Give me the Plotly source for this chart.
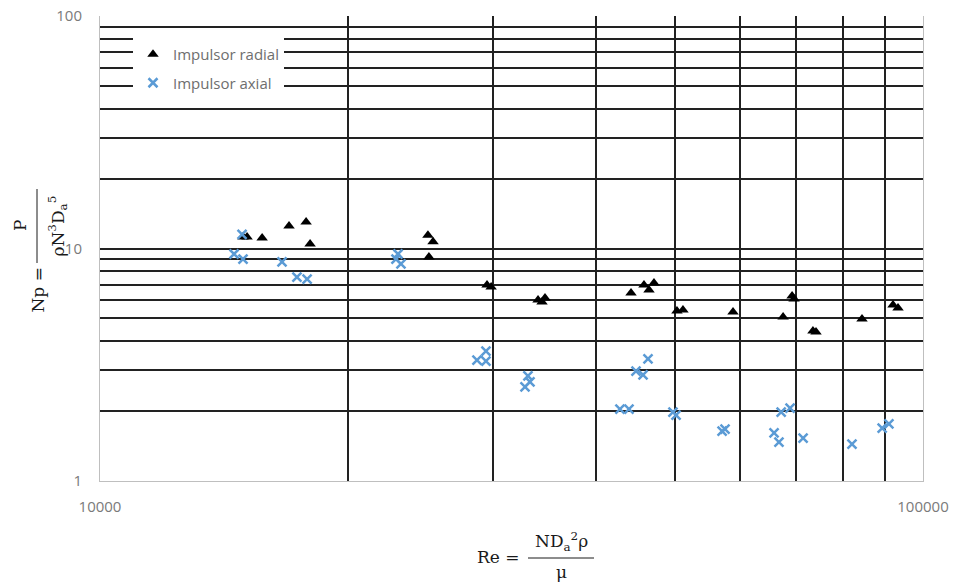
import plotly.graph_objects as go

# ---- data ----
radial_re = [14920, 15090, 15740, 16970, 17800, 18000, 25030, 25390, 25100,
             29530, 29870, 34060, 34440, 34730, 44180, 45810, 46460, 47110,
             50240, 51090, 58770, 67610, 69330, 69720, 73500, 74130, 84310,
             91950, 93250]
radial_np = [11.2, 11.2, 11.1, 12.5, 13.0, 10.45, 11.4, 10.7, 9.2,
             6.97, 6.83, 6.0, 5.89, 6.12, 6.44, 6.97, 6.63, 7.11,
             5.38, 5.44, 5.33, 5.08, 6.25, 6.07, 4.42, 4.37, 4.98,
             5.71, 5.55]

axial_re = [14880, 14550, 14920, 16640, 17350, 17850, 23020, 22890, 23210,
            29440, 28710, 29440, 33110, 33300, 32840, 46330, 44800, 45690,
            42830, 43930, 49680, 50110, 57000, 57470, 67240, 68940, 65920,
            66830, 71500, 81980, 89200, 90900]
axial_np = [11.5, 9.47, 9.01, 8.75, 7.54, 7.39, 9.47, 9.01, 8.58,
            3.62, 3.31, 3.28, 2.83, 2.67, 2.54, 3.35, 2.97, 2.86,
            2.04, 2.04, 1.98, 1.92, 1.64, 1.67, 1.98, 2.06, 1.61,
            1.47, 1.53, 1.44, 1.69, 1.76]

x_major = [10000, 100000]
x_major_text = ["10000", "100000"]
x_minor = [20000, 30000, 40000, 50000, 60000, 70000, 80000, 90000]
y_major = [1, 10, 100]
y_major_text = ["1", "10", "100"]
y_minor = [2, 3, 4, 5, 6, 7, 8, 9, 20, 30, 40, 50, 60, 70, 80, 90]

series_names = ["Impulsor radial", "Impulsor axial"]

GRID = "#222222"
AXIS = "#bfbfbf"
TICKC = "#7a7a7a"
BLUE = "#5b9bd5"

fig = go.Figure()
fig.add_trace(go.Scatter(
    x=radial_re, y=radial_np, mode="markers", name=series_names[0],
    legendgroup="a",
    marker=dict(symbol="triangle-up", size=10, color="black")))
fig.add_trace(go.Scatter(
    x=axial_re, y=axial_np, mode="markers", name=series_names[1],
    legendgroup="b",
    marker=dict(symbol="x-thin", size=9, color=BLUE,
                line=dict(color=BLUE, width=2.5))))

W, H = 956, 582
L, R, T, B = 100, 33, 16, 101
pw, ph = W - L - R, H - T - B


def px(x):
    return (x - L) / pw


def py(y):
    return (H - B - y) / ph


fig.update_layout(
    width=W, height=H,
    margin=dict(l=L, r=R, t=T, b=B, autoexpand=False),
    paper_bgcolor="white", plot_bgcolor="white",
    showlegend=True,
    legend=dict(x=px(133), y=py(38), xanchor="left", yanchor="top",
                bgcolor="white", font=dict(family="Open Sans", size=15, color="#6e6e6e"),
                tracegroupgap=6, traceorder="grouped"),
    font=dict(family="Open Sans", size=15, color=TICKC),
)

fig.update_xaxes(
    type="log", range=[4, 5], automargin=False,
    tickmode="array", tickvals=x_major, ticktext=x_major_text,
    showgrid=False, zeroline=False,
    showline=True, linecolor=AXIS, linewidth=1,
    ticks="", ticklabelstandoff=12,
    tickfont=dict(family="Open Sans", size=15, color=TICKC),
    minor=dict(tickmode="array", tickvals=x_minor, showgrid=True,
               gridcolor=GRID, gridwidth=1.6, ticks=""),
)
fig.update_yaxes(
    type="log", range=[0, 2], automargin=False,
    tickmode="array", tickvals=y_major, ticktext=y_major_text,
    showgrid=True, gridcolor=GRID, gridwidth=1.6, zeroline=False,
    showline=True, linecolor=AXIS, linewidth=1, mirror=True,
    ticks="", ticklabelstandoff=14,
    tickfont=dict(family="Open Sans", size=15, color=TICKC),
    minor=dict(tickmode="array", tickvals=y_minor, showgrid=True,
               gridcolor=GRID, gridwidth=1.6, ticks=""),
)

SERIF = "DejaVu Serif"
TF = dict(family=SERIF, size=17, color="#1a1a1a")

# x-axis title: Re = N Da^2 rho / mu
fig.add_annotation(xref="paper", yref="paper", x=px(522), y=py(557),
                   xanchor="right", yanchor="middle", showarrow=False,
                   text="Re =", font=TF)
fig.add_annotation(xref="paper", yref="paper", x=px(561), y=py(556),
                   xanchor="center", yanchor="bottom", showarrow=False,
                   text="ND<sub>a</sub><sup>2</sup>ρ", font=TF)
fig.add_annotation(xref="paper", yref="paper", x=px(561), y=py(560),
                   xanchor="center", yanchor="top", showarrow=False,
                   text="μ", font=TF)
fig.add_shape(type="line", xref="paper", yref="paper",
              x0=px(528), x1=px(594), y0=py(558), y1=py(558),
              line=dict(color="#1a1a1a", width=1))

# y-axis title: Np = P / (rho N^3 Da^5)
fig.add_annotation(xref="paper", yref="paper", x=px(37), y=py(266),
                   xanchor="center", yanchor="top", showarrow=False,
                   textangle=-90, text="Np =", font=TF)
fig.add_annotation(xref="paper", yref="paper", x=px(32), y=py(226),
                   xanchor="right", yanchor="middle", showarrow=False,
                   textangle=-90, text="P", font=TF)
fig.add_annotation(xref="paper", yref="paper", x=px(43), y=py(226),
                   xanchor="left", yanchor="middle", showarrow=False,
                   textangle=-90, text="ρN<sup>3</sup>D<sub>a</sub><sup>5</sup>", font=TF)
fig.add_shape(type="line", xref="paper", yref="paper",
              x0=px(37), x1=px(37), y0=py(189), y1=py(263),
              line=dict(color="#1a1a1a", width=1))

fig.write_html("out.html", config={"displayModeBar": False},
               post_script="document.body.style.margin='0px';document.body.style.overflow='hidden';")
